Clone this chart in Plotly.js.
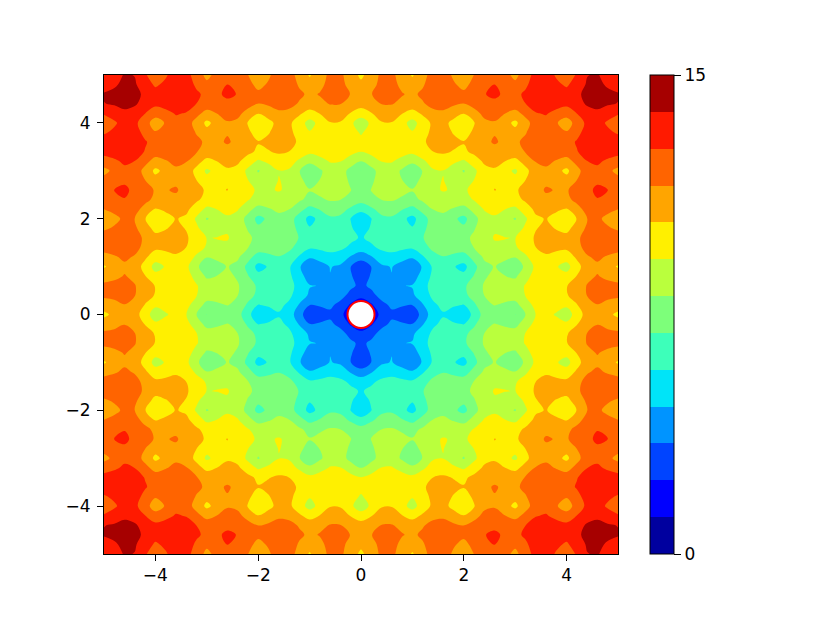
<!DOCTYPE html>
<html>
<head>
<meta charset="utf-8">
<script src="https://cdn.plot.ly/plotly-3.0.1.min.js"></script>
<style>
  html, body { margin: 0; padding: 0; background: #fff; }
  #chart { width: 830px; height: 623px; }
</style>
</head>
<body>
<div id="chart"></div>
<script>
// heights read on a 0.2 step grid, one wedge only (row = |x|/0.2, col = |y|/0.2, col <= row)
const wedgeRows = [
  [0],
  [1.35, 2.14],
  [2.71, 3.16, 3.81],
  [3.25, 3.65, 4.22, 4.53],
  [2.93, 3.56, 4.32, 4.58, 4.32],
  [2.64, 3.48, 4.45, 4.67, 4.11, 3.63],
  [3.92, 4.52, 5.22, 5.40, 5.05, 4.77, 5.63],
  [5.22, 5.57, 6.00, 6.16, 6.02, 5.94, 6.54, 7.17],
  [5.67, 6.02, 6.44, 6.57, 6.42, 6.31, 6.87, 7.47, 7.76],
  [5.30, 5.88, 6.54, 6.65, 6.23, 5.85, 6.63, 7.46, 7.71, 7.40],
  [4.93, 5.74, 6.63, 6.73, 6.05, 5.43, 6.42, 7.46, 7.70, 7.13, 6.59],
  [6.15, 6.73, 7.37, 7.46, 7.00, 6.58, 7.32, 8.11, 8.33, 7.97, 7.66, 8.47],
  [7.37, 7.71, 8.09, 8.18, 7.95, 7.77, 8.26, 8.78, 8.97, 8.85, 8.76, 9.32, 9.90],
  [7.77, 8.11, 8.49, 8.56, 8.33, 8.14, 8.60, 9.10, 9.28, 9.15, 9.04, 9.58, 10.14, 10.40],
  [7.33, 7.90, 8.53, 8.60, 8.10, 7.66, 8.35, 9.09, 9.26, 8.87, 8.49, 9.26, 10.06, 10.29, 9.93],
  [6.91, 7.72, 8.58, 8.64, 7.90, 7.21, 8.13, 9.10, 9.20, 8.59, 7.99, 8.97, 10.00, 10.21, 9.60, 9.03],
  [8.08, 8.65, 9.27, 9.32, 8.81, 8.35, 9.02, 9.73, 9.88, 9.45, 9.06, 9.81, 10.58, 10.78, 10.40, 10.04, 10.81],
  [9.25, 9.58, 9.94, 9.99, 9.73, 9.50, 9.93, 10.38, 10.52, 10.33, 10.17, 10.66, 11.17, 11.36, 11.21, 11.08, 11.60, 12.14],
  [9.59, 9.93, 10.29, 10.33, 10.06, 9.82, 10.24, 10.69, 10.82, 10.62, 10.45, 10.93, 11.43, 11.59, 11.44, 11.31, 11.82, 12.34, 12.54],
  [9.11, 9.68, 10.29, 10.33, 9.81, 9.32, 9.97, 10.66, 10.78, 10.32, 9.90, 10.61, 11.34, 11.51, 11.09, 10.71, 11.45, 12.21, 12.40, 12.00],
  [8.64, 9.44, 10.29, 10.33, 9.56, 8.84, 9.72, 10.64, 10.75, 10.04, 9.37, 10.30, 11.27, 11.43, 10.76, 10.14, 11.10, 12.10, 12.28, 11.63, 11.00],
  [9.75, 10.32, 10.93, 10.97, 10.43, 9.94, 10.58, 11.24, 11.34, 10.87, 10.43, 11.12, 11.85, 11.99, 11.56, 11.15, 11.88, 12.63, 12.79, 12.37, 11.98, 12.71],
  [10.88, 11.21, 11.56, 11.59, 11.31, 11.05, 11.44, 11.86, 11.95, 11.73, 11.52, 11.96, 12.43, 12.56, 12.37, 12.20, 12.68, 13.16, 13.31, 13.14, 12.98, 13.47, 13.97],
  [11.18, 11.51, 11.86, 11.89, 11.60, 11.34, 11.73, 12.14, 12.23, 11.99, 11.78, 12.21, 12.67, 12.80, 12.60, 12.42, 12.88, 13.36, 13.51, 13.33, 13.16, 13.64, 14.14, 14.30],
  [10.65, 11.22, 11.82, 11.85, 11.30, 10.79, 11.42, 12.08, 12.16, 11.67, 11.21, 11.88, 12.58, 12.70, 12.24, 11.80, 12.50, 13.23, 13.37, 12.93, 12.52, 13.23, 13.97, 14.12, 13.69],
  [10.14, 10.94, 11.78, 11.80, 11.02, 10.27, 11.13, 12.02, 12.10, 11.36, 10.66, 11.56, 12.49, 12.60, 11.89, 11.23, 12.15, 13.11, 13.24, 12.56, 11.91, 12.84, 13.81, 13.96, 13.28, 12.64]
];

const bandColors = [
  '#00009f', '#0000ff', '#0044ff', '#0094ff', '#00e4f8', '#3dffba', '#7dff7a',
  '#baff3d', '#fff000', '#ffa500', '#ff6400', '#ff1a00', '#a60000'
];

const axisTicks = [-4, -2, 0, 2, 4];
const barTicks = [0, 15];
const centerPointX = [0];
const centerPointY = [0];

function heightAt(rowIndex, colIndex) {
  const a = Math.abs(rowIndex);
  const b = Math.abs(colIndex);
  return a >= b ? wedgeRows[a][b] : wedgeRows[b][a];
}

function buildGrid() {
  const rows = [];
  for (let y = -25; y <= 25; y += 1) {
    const row = [];
    for (let x = -25; x <= 25; x += 1) {
      row.push(heightAt(x, y));
    }
    rows.push(row);
  }
  return rows;
}

function buildColorscale() {
  const scale = [];
  bandColors.forEach((color, index) => {
    scale.push([index / bandColors.length, color]);
    scale.push([(index + 1) / bandColors.length, color]);
  });
  return scale;
}

const tickFont = { family: 'DejaVu Sans, sans-serif', size: 17, color: '#000' };

const contourTrace = {
  type: 'contour',
  z: buildGrid(),
  x0: -5,
  dx: 0.2,
  y0: -5,
  dy: 0.2,
  zmin: 0,
  zmax: 15,
  autocontour: false,
  contours: { start: 0, end: 15, size: 15 / bandColors.length, coloring: 'fill', showlines: false },
  line: { width: 0, smoothing: 1 },
  colorscale: buildColorscale(),
  hoverinfo: 'skip',
  colorbar: {
    thickness: 24,
    thicknessmode: 'pixels',
    len: 1,
    lenmode: 'fraction',
    x: 546 / 514,
    xanchor: 'left',
    xpad: 0,
    y: 0,
    yanchor: 'bottom',
    ypad: 0,
    tickmode: 'array',
    tickvals: barTicks,
    ticktext: barTicks.map(String),
    ticks: 'outside',
    ticklen: 7,
    tickwidth: 1,
    tickcolor: '#000',
    tickfont: tickFont,
    outlinecolor: '#000',
    outlinewidth: 1
  }
};

const centerTrace = {
  type: 'scatter',
  mode: 'markers',
  x: centerPointX,
  y: centerPointY,
  marker: { size: 27, color: '#fff', line: { color: '#ff0000', width: 2 } },
  hoverinfo: 'skip',
  showlegend: false
};

function axisLayout(standoff) {
  return {
    range: [-5, 5],
    tickmode: 'array',
    tickvals: axisTicks,
    ticks: 'outside',
    ticklen: 6,
    tickwidth: 1,
    tickcolor: '#000',
    tickfont: tickFont,
    ticklabelstandoff: standoff,
    showgrid: false,
    zeroline: false,
    showline: true,
    linecolor: '#000',
    linewidth: 1,
    mirror: true
  };
}

const layout = {
  width: 830,
  height: 623,
  margin: { l: 104, r: 212, t: 75, b: 69, pad: 0 },
  paper_bgcolor: '#fff',
  plot_bgcolor: '#fff',
  showlegend: false,
  xaxis: axisLayout(0),
  yaxis: axisLayout(3)
};

Plotly.newPlot('chart', [contourTrace, centerTrace], layout, { displayModeBar: false, staticPlot: true });
</script>
</body>
</html>
